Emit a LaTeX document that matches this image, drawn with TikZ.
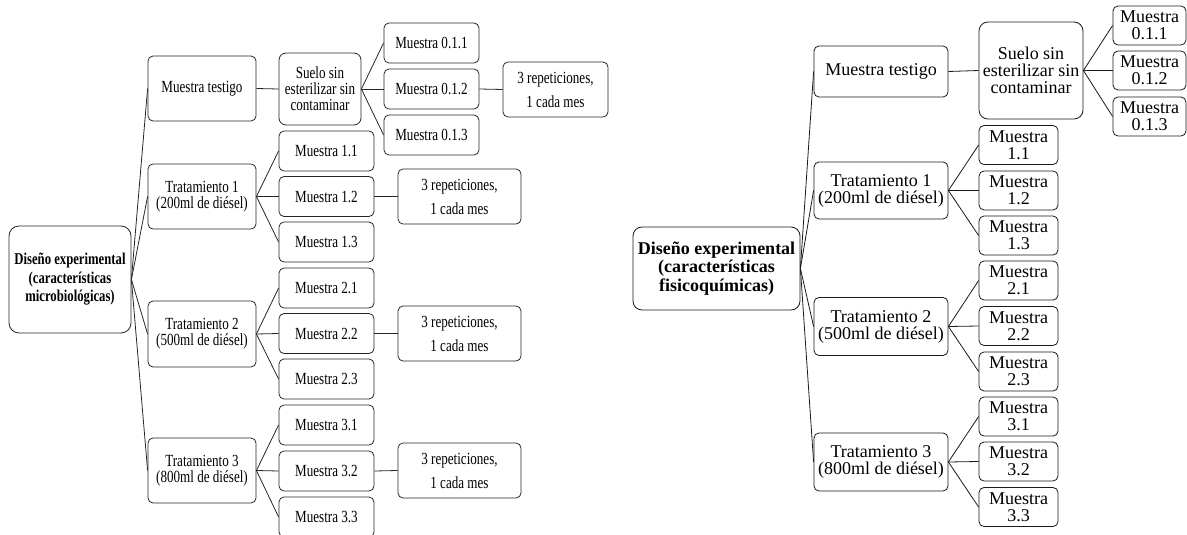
\documentclass[tikz,border=0pt]{standalone}
\usepackage{fontspec}
\setmainfont{Liberation Serif}
\newfontfamily\nfont[FakeStretch=0.77]{Liberation Serif}
\tikzset{
  base/.style={draw=gray!30!black, line width=0.8pt, align=center, inner sep=0pt, rounded corners=5pt},
  lbox/.style={base, font={\nfont\fontsize{17}{16}\selectfont}},
  lrep/.style={base, font={\nfont\fontsize{17}{24}\selectfont}},
  lroot/.style={base, rounded corners=10pt, font={\nfont\bfseries\fontsize{16.5}{18.5}\selectfont}},
  rbox/.style={base, draw=gray!20!black, font={\fontsize{18}{17}\selectfont}},
  rroot/.style={base, draw=gray!20!black, rounded corners=9pt, font={\bfseries\fontsize{18}{18.5}\selectfont}},
  conn/.style={draw=gray!30!black, line width=0.8pt},
  rconn/.style={draw=gray!20!black, line width=0.8pt}
}
\begin{document}
\begin{tikzpicture}[x=1pt,y=-1pt]
\useasboundingbox (0,0) rectangle (1187,535);
% ---------- left diagram ----------
\node[lroot, minimum width=122pt, minimum height=107pt] (L0) at (70,279.5) {Diseño experimental\\(características\\microbiológicas)};
\node[lbox, minimum width=108pt, minimum height=65pt] (LMT) at (202,88.5) {Muestra testigo};
\node[lbox, minimum width=108pt, minimum height=65pt] (LT1) at (202,196.5) {Tratamiento 1\\(200ml de diésel)};
\node[lbox, minimum width=108pt, minimum height=66pt] (LT2) at (202,334) {Tratamiento 2\\(500ml de diésel)};
\node[lbox, minimum width=108pt, minimum height=65pt] (LT3) at (202,470.5) {Tratamiento 3\\(800ml de diésel)};
\node[lbox, rounded corners=7pt, minimum width=82pt, minimum height=72pt] (LS) at (320,89) {Suelo sin\\esterilizar sin\\contaminar};
\node[lbox, minimum width=95pt, minimum height=40pt] (L011) at (431.5,43) {Muestra 0.1.1};
\node[lbox, minimum width=95pt, minimum height=40pt] (L012) at (431.5,89) {Muestra 0.1.2};
\node[lbox, minimum width=95pt, minimum height=40pt] (L013) at (431.5,135) {Muestra 0.1.3};
\node[lrep, minimum width=105pt, minimum height=55pt] (LR0) at (555.5,89.5) {3 repeticiones,\\1 cada mes};
\node[lbox, minimum width=95pt, minimum height=40pt] (L11) at (326.5,151) {Muestra 1.1};
\node[lbox, minimum width=95pt, minimum height=40pt] (L12) at (326.5,196.5) {Muestra 1.2};
\node[lbox, minimum width=95pt, minimum height=40pt] (L13) at (326.5,242) {Muestra 1.3};
\node[lrep, minimum width=123pt, minimum height=55pt] (LR1) at (459.5,196.5) {3 repeticiones,\\1 cada mes};
\node[lbox, minimum width=95pt, minimum height=40pt] (L21) at (326.5,288) {Muestra 2.1};
\node[lbox, minimum width=95pt, minimum height=40pt] (L22) at (326.5,333.5) {Muestra 2.2};
\node[lbox, minimum width=95pt, minimum height=40pt] (L23) at (326.5,379) {Muestra 2.3};
\node[lrep, minimum width=123pt, minimum height=55pt] (LR2) at (459.5,333.5) {3 repeticiones,\\1 cada mes};
\node[lbox, minimum width=95pt, minimum height=40pt] (L31) at (326.5,425) {Muestra 3.1};
\node[lbox, minimum width=95pt, minimum height=40pt] (L32) at (326.5,471) {Muestra 3.2};
\node[lbox, minimum width=95pt, minimum height=40pt] (L33) at (326.5,517) {Muestra 3.3};
\node[lrep, minimum width=123pt, minimum height=55pt] (LR3) at (459.5,470.5) {3 repeticiones,\\1 cada mes};
\foreach \t in {LMT,LT1,LT2,LT3} \draw[conn] (L0.east) -- (\t.west);
\draw[conn] (LMT.east) -- (LS.west);
\foreach \t in {L011,L012,L013} \draw[conn] (LS.east) -- (\t.west);
\draw[conn] (L012.east) -- (LR0.west);
\foreach \t in {L11,L12,L13} \draw[conn] (LT1.east) -- (\t.west);
\draw[conn] (L12.east) -- (LR1.west);
\foreach \t in {L21,L22,L23} \draw[conn] (LT2.east) -- (\t.west);
\draw[conn] (L22.east) -- (LR2.west);
\foreach \t in {L31,L32,L33} \draw[conn] (LT3.east) -- (\t.west);
\draw[conn] (L32.east) -- (LR3.west);
% ---------- right diagram ----------
\node[rroot, minimum width=167pt, minimum height=83pt] (R0) at (716.5,268.5) {Diseño experimental\\(características\\fisicoquímicas)};
\node[rbox, minimum width=134pt, minimum height=51pt] (RMT) at (881,71.5) {Muestra testigo};
\node[rbox, minimum width=134pt, minimum height=57pt] (RT1) at (881,190.5) {Tratamiento 1\\(200ml de diésel)};
\node[rbox, minimum width=134pt, minimum height=58pt] (RT2) at (881,326.5) {Tratamiento 2\\(500ml de diésel)};
\node[rbox, minimum width=134pt, minimum height=58pt] (RT3) at (881,462) {Tratamiento 3\\(800ml de diésel)};
\node[rbox, rounded corners=9pt, minimum width=104pt, minimum height=97pt] (RS) at (1031,70.5) {Suelo sin\\esterilizar sin\\contaminar};
\node[rbox, minimum width=73pt, minimum height=39pt] (R011) at (1149.5,25.5) {Muestra\\0.1.1};
\node[rbox, minimum width=73pt, minimum height=39pt] (R012) at (1149.5,70.5) {Muestra\\0.1.2};
\node[rbox, minimum width=73pt, minimum height=39pt] (R013) at (1149.5,116.5) {Muestra\\0.1.3};
\node[rbox, minimum width=79pt, minimum height=39pt] (R11) at (1018.5,145) {Muestra\\1.1};
\node[rbox, minimum width=79pt, minimum height=39pt] (R12) at (1018.5,190.5) {Muestra\\1.2};
\node[rbox, minimum width=79pt, minimum height=39pt] (R13) at (1018.5,235.5) {Muestra\\1.3};
\node[rbox, minimum width=79pt, minimum height=39pt] (R21) at (1018.5,280.5) {Muestra\\2.1};
\node[rbox, minimum width=79pt, minimum height=39pt] (R22) at (1018.5,326) {Muestra\\2.2};
\node[rbox, minimum width=79pt, minimum height=39pt] (R23) at (1018.5,371.5) {Muestra\\2.3};
\node[rbox, minimum width=79pt, minimum height=39pt] (R31) at (1018.5,416.5) {Muestra\\3.1};
\node[rbox, minimum width=79pt, minimum height=39pt] (R32) at (1018.5,461.5) {Muestra\\3.2};
\node[rbox, minimum width=79pt, minimum height=39pt] (R33) at (1018.5,507) {Muestra\\3.3};
\foreach \t in {RMT,RT1,RT2,RT3} \draw[rconn] (R0.east) -- (\t.west);
\draw[rconn] (RMT.east) -- (RS.west);
\foreach \t in {R011,R012,R013} \draw[rconn] (RS.east) -- (\t.west);
\foreach \t in {R11,R12,R13} \draw[rconn] (RT1.east) -- (\t.west);
\foreach \t in {R21,R22,R23} \draw[rconn] (RT2.east) -- (\t.west);
\foreach \t in {R31,R32,R33} \draw[rconn] (RT3.east) -- (\t.west);
\end{tikzpicture}
\end{document}
